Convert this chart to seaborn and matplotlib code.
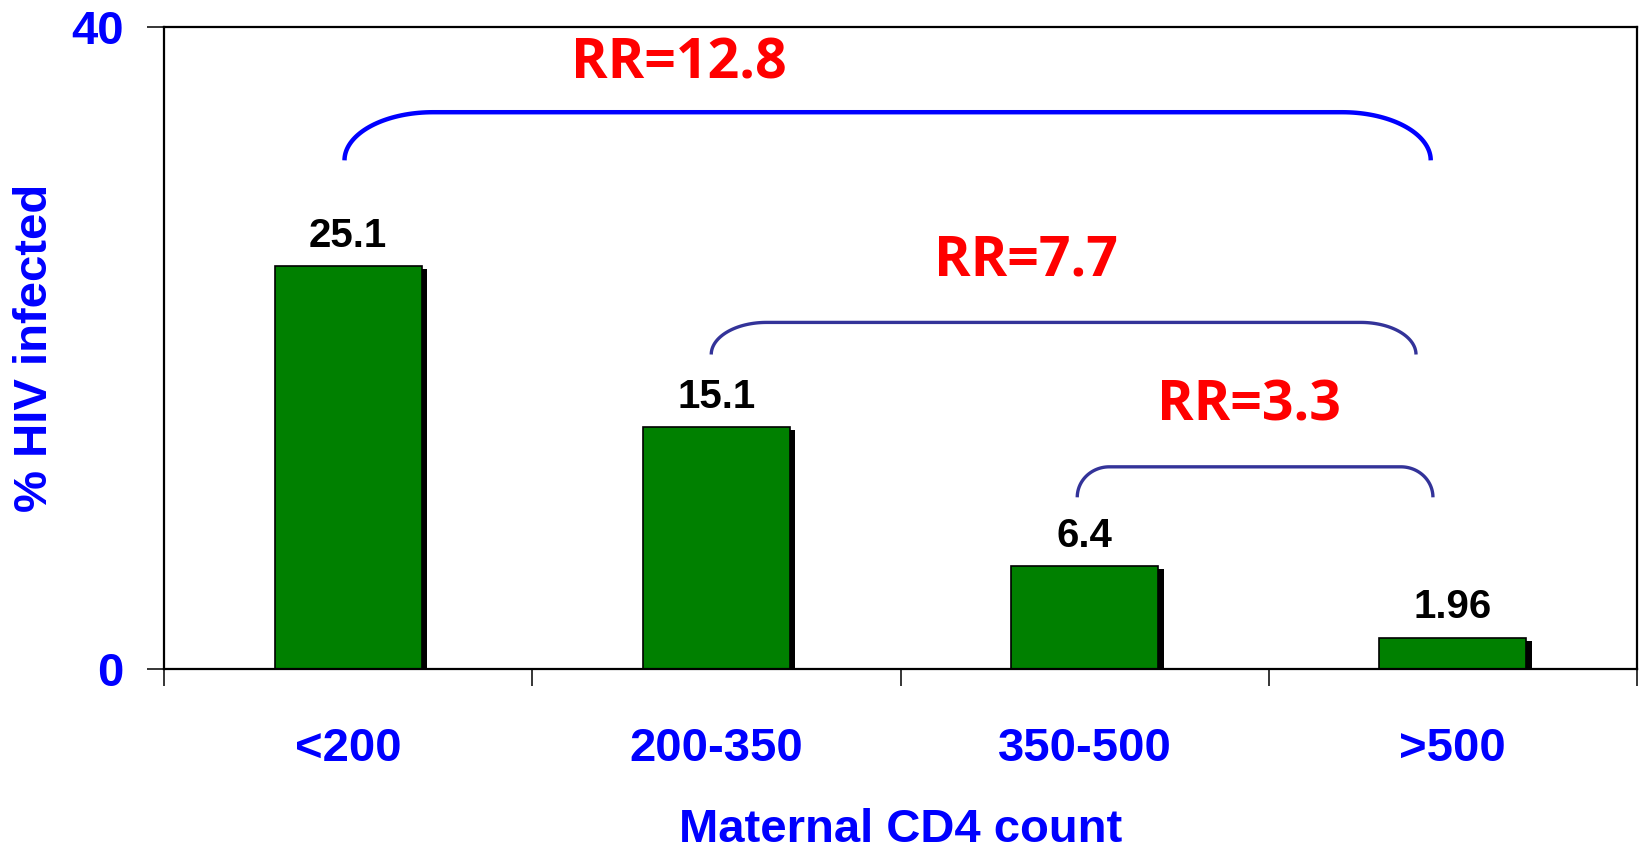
import numpy as np
import pandas as pd
import matplotlib
matplotlib.use("Agg")
import matplotlib.pyplot as plt
import matplotlib.patheffects as pe
import seaborn as sns

# Data
categories = ["<200", "200-350", "350-500", ">500"]
pct_infected = [25.1, 15.1, 6.4, 1.96]
value_labels = ["25.1", "15.1", "6.4", "1.96"]

# Relative risk brackets (left x, right x, bottom, top) and labels
rr_labels = ["RR=12.8", "RR=7.7", "RR=3.3"]
rr_left = [-0.01, 0.986, 1.98]
rr_right = [2.94, 2.90, 2.946]
rr_bottom = [31.7, 19.6, 10.7]
rr_top = [34.7, 21.6, 12.6]
rr_curve = [0.24, 0.15, 0.087]
rr_label_x = [0.897, 1.842, 2.446]
rr_label_y = [37.7, 25.4, 16.4]
rr_colors = ["#0000FF", "#333399", "#333399"]
rr_widths = [3.2, 2.4, 2.4]

df = pd.DataFrame({"CD4": categories, "Pct": pct_infected})

sns.set_style("white")
plt.rcParams["font.family"] = ["Liberation Sans", "DejaVu Sans"]

fig = plt.figure(figsize=(16.44, 8.49), dpi=100)
ax = fig.add_axes([0.0998, 0.212, 0.8959, 0.756])

sns.barplot(data=df, x="CD4", y="Pct", color="#008000", saturation=1,
            width=0.40, edgecolor="black", linewidth=1.2, ax=ax)

for bar in ax.patches:
    bar.set_path_effects([pe.SimplePatchShadow(offset=(3.8, -2.2), shadow_rgbFace="black", alpha=1),
                          pe.Normal()])

ax.bar_label(ax.containers[0], labels=value_labels, padding=8,
             fontsize=29, fontweight="bold", color="black")

ax.set_xlim(-0.5, 3.5)
ax.set_ylim(0, 40)

# axes frame
for s in ax.spines.values():
    s.set_visible(True)
    s.set_color("black")
    s.set_linewidth(1.6)

# y ticks
ax.set_yticks([0, 40])
ax.set_yticklabels(["0", "40"])
ax.tick_params(axis="y", direction="out", length=12, width=1.3, pad=17,
               labelsize=34, labelcolor="#0000FF", left=True)
for t in ax.get_yticklabels():
    t.set_fontweight("bold")

# x ticks: marks at boundaries, labels at centers
ax.set_xticks([-0.5, 0.5, 1.5, 2.5, 3.5])
ax.set_xticklabels([])
ax.set_xticks(range(len(categories)), minor=True)
ax.set_xticklabels(categories, minor=True)
ax.tick_params(axis="x", which="major", direction="out", length=12, width=1.3, bottom=True)
ax.tick_params(axis="x", which="minor", length=0, pad=42, labelsize=34, labelcolor="#0000FF")
for t in ax.get_xticklabels(minor=True):
    t.set_fontweight("bold")

ax.set_xlabel("Maternal CD4 count", fontsize=34, fontweight="bold", color="#0000FF")
ax.set_ylabel("% HIV infected", fontsize=34, fontweight="bold", color="#0000FF")
ax.xaxis.set_label_coords(0.5, -0.216)
ax.yaxis.set_label_coords(-0.073, 0.5)

# RR brackets
for i in range(len(rr_labels)):
    rx = rr_curve[i]
    ry = rr_top[i] - rr_bottom[i]
    th1 = np.linspace(np.pi, np.pi / 2, 40)
    th2 = np.linspace(np.pi / 2, 0, 40)
    xs = np.concatenate([rr_left[i] + rx * (1 + np.cos(th1)),
                         rr_right[i] - rx + rx * np.cos(th2)])
    ys = np.concatenate([rr_bottom[i] + ry * np.sin(th1),
                         rr_bottom[i] + ry * np.sin(th2)])
    ax.plot(xs, ys, color=rr_colors[i], lw=rr_widths[i], solid_capstyle="butt")
    ax.text(rr_label_x[i], rr_label_y[i], rr_labels[i], color="#FF0000",
            fontsize=40, fontweight="bold", family=["Open Sans", "DejaVu Sans"],
            ha="center", va="center")

fig.savefig("out.png", dpi=100, facecolor="white")
